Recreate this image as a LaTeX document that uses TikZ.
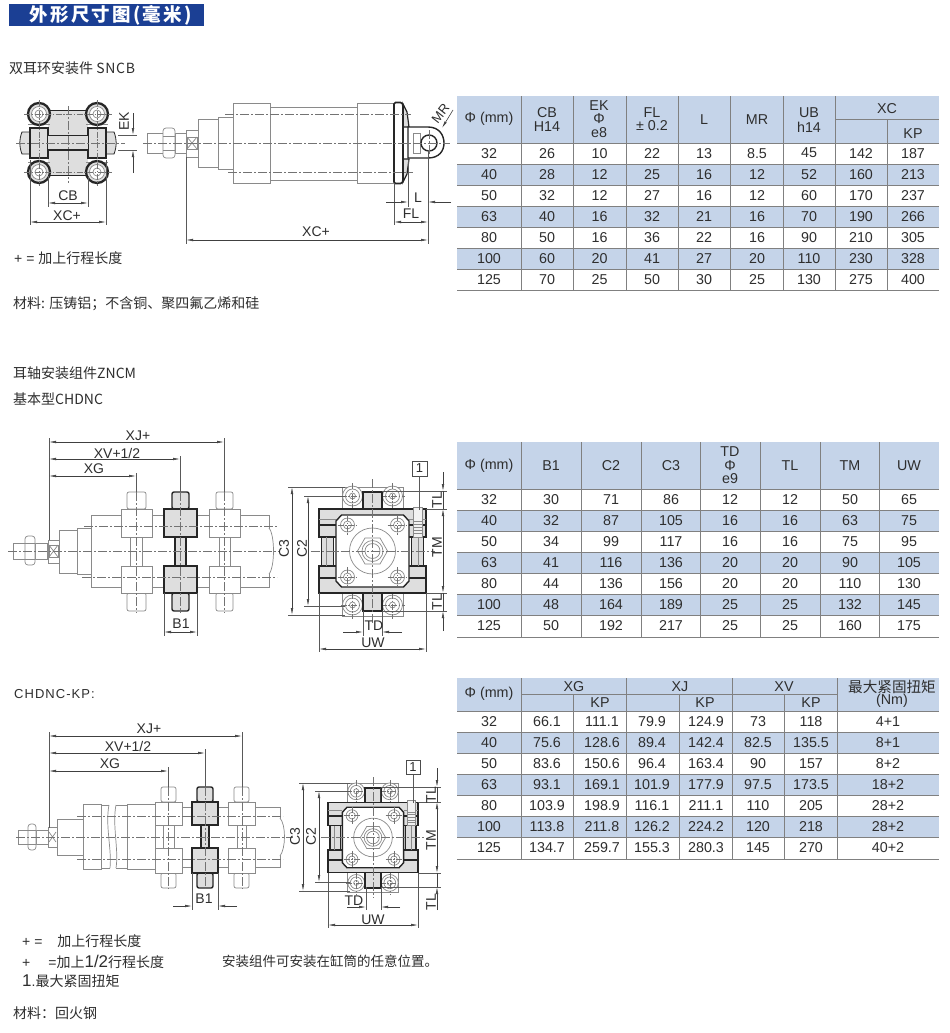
\documentclass[tikz,border=0pt]{standalone}
\usepackage{fontspec}
\setmainfont{Liberation Sans}
\newfontfamily\cjk{Noto Sans CJK SC}
\newfontfamily\latn{Liberation Sans}
\usetikzlibrary{arrows.meta}
\definecolor{ink}{HTML}{2E2E2E}
\definecolor{rowblue}{HTML}{C5D4E9}
\definecolor{banner}{HTML}{1B3F94}
\definecolor{lite}{HTML}{8A8A8A}
\definecolor{grayfill}{HTML}{DEDEDE}
\tikzset{
 >={Latex[length=7pt,width=2.6pt]},
 part/.style={draw=lite,line width=.7pt,fill=white},
 liteline/.style={draw=lite,line width=.7pt},
 dark/.style={draw=black!85,line width=1.4pt,fill=grayfill},
 darkline/.style={draw=black!85,line width=1.4pt},
 cl/.style={draw=black!55,line width=.55pt,dash pattern=on 9pt off 2pt on 2pt off 2pt},
 clshort/.style={draw=black!55,line width=.5pt,dash pattern=on 6pt off 1.5pt on 1.5pt off 1.5pt},
 ext/.style={draw=black!65,line width=.6pt},
 dimn/.style={draw=black!75,line width=.6pt},
 lab/.style={inner sep=0pt,font=\fontsize{14}{14}\selectfont,text=ink},
 note/.style={inner sep=0pt,anchor=west,font=\fontsize{14}{14}\selectfont,text=ink},
 cell/.style={inner sep=0pt,font=\fontsize{14.3}{14}\selectfont,text=ink},
 tline/.style={draw=black!50,line width=.9pt},
 numbox/.style={draw=black!70,line width=.6pt,fill=white,inner sep=0pt,minimum width=15pt,minimum height=15pt,font=\fontsize{13}{13}\selectfont,text=ink},
}
% #1 name #2 top #3 row height #4 centres #5 rows
\newcommand{\tblrows}[5]{%
 \foreach \vals [count=\ri] in {#5}{%
  \foreach \v [count=\ci] in \vals {%
   \pgfmathparse{{#4}[\ci-1]}\let\cx\pgfmathresult
   \pgfmathparse{#2+(\ri-0.52)*#3}\let\cy\pgfmathresult
   \node[cell,name=#1-\ri-\ci] at (\cx,\cy) {\v};
  }%
 }%
}
% #1 header top #2 header bottom #3 row h #4 nrows
\newcommand{\tblback}[4]{%
 \fill[rowblue] (457,#1) rectangle (939,#2);
 \foreach \k in {2,4,6}{\fill[rowblue] (457,{#2+(\k-1)*#3}) rectangle (939,{#2+\k*#3});}
 \foreach \k in {0,...,#4}{\draw[tline] (457,{#2+\k*#3}) -- (939,{#2+\k*#3});}
}
\newcommand{\roundbolt}[2]{%
 \draw[liteline,fill=white] (#1,#2) circle[radius=10];
 \draw[liteline] (#1,#2) circle[radius=7];
 \draw[liteline] (#1,#2) circle[radius=3];
}
\newcommand{\trunnionview}{%
 \draw[part] (-30.5,-64) rectangle (30.5,-42);
 \draw[part] (-30.5,42) rectangle (30.5,65);
 \foreach \a in {-20,20}{\roundbolt{\a}{-55}\roundbolt{\a}{54}
  \draw[clshort] (\a,-68) -- (\a,-42);
  \draw[clshort] (\a,42) -- (\a,68);
  \draw[clshort] (\a-12,-55) -- (\a+12,-55);
  \draw[clshort] (\a-12,54) -- (\a+12,54);
 }
 \draw[dark] (-9.5,-59) rectangle (9.5,-42);
 \draw[dark] (-9.5,42) rectangle (9.5,60);
 \draw[dark,line width=.8pt] (-9.5,-59) -- (-9.5,-42) (9.5,-59) -- (9.5,-42);
 \draw[line width=2.4pt,draw=black!85] (-8.5,-59) -- (8.5,-59) (-8.5,60) -- (8.5,60);
 \draw[dark] (-53.5,-42) rectangle (53.5,42);
 \fill[white] (-55,-14) rectangle (55,15);
 \foreach \s in {-1,1}{
  \fill[grayfill] (\s*51,-14) rectangle (\s*39,15);
  \draw[darkline] (\s*53.5,-42) -- (\s*53.5,-14) -- (\s*36.5,-14);
  \draw[darkline] (\s*53.5,42) -- (\s*53.5,15) -- (\s*36.5,15);
  \draw[darkline,line width=2pt] (\s*53.5,-26) -- (\s*36.5,-26);
  \draw[darkline,line width=2pt] (\s*53.5,27) -- (\s*36.5,27);
  \draw[darkline] (\s*51,-14) -- (\s*51,15);
  \draw[darkline] (\s*39,-14) -- (\s*39,15);
  \draw[liteline] (\s*46,-14) -- (\s*46,15);
  \draw[liteline] (\s*53.5,-32) -- (\s*36.5,-32);
 }
 \draw[darkline,fill=white] (-31,-36) -- (31,-36) -- (36.5,-30) -- (36.5,30) -- (31,36) -- (-31,36) -- (-36.5,30) -- (-36.5,-30) -- cycle;
 \foreach \s in {-1,1}{
  \foreach \t in {-1,1}{
   \draw[liteline,fill=white] (\s*25,\t*26) circle[radius=7];
   \draw[liteline] (\s*25,\t*26) circle[radius=4];
   \draw[clshort] (\s*25-10,\t*26) -- (\s*25+10,\t*26);
   \draw[clshort] (\s*25,\t*26-10) -- (\s*25,\t*26+10);
  }
 }
 \draw[liteline,fill=grayfill!40] (41,-44) rectangle (50,-30);
 \draw[liteline,fill=grayfill!40] (41,-30) rectangle (50,-14);
 \foreach \h in {-27,-24,-21,-18}{\draw[liteline] (41,\h) -- (50,\h);}
 \draw[liteline] (0,0) circle[radius=23];
 \draw[liteline,fill=white] (-15,0) -- (-7.5,-13) -- (7.5,-13) -- (15,0) -- (7.5,13) -- (-7.5,13) -- cycle;
 \draw[liteline,fill=white] (0,0) circle[radius=10.5];
 \draw[liteline] (0,0) circle[radius=7.5];
 \draw[cl] (-62,0) -- (62,0);
 \draw[cl] (0,-72) -- (0,72);
}
\begin{document}
\begin{tikzpicture}[x=1pt,y=-1pt]
\fill[white] (0,0) rectangle (950,1033);
\useasboundingbox (0,0) rectangle (950,1033);

% ---------- banner and notes
\fill[banner] (9,4) rectangle (204,26);
\node[name=title,inner sep=0pt,anchor=west,text=white] at (29.5,15.5) {\fontsize{18.5}{18}\selectfont\cjk\bfseries\addfontfeature{LetterSpace=12}外形尺寸图(毫米)};
\node[note,name=n1] at (9,68) {\cjk 双耳环安装件 \addfontfeature{LetterSpace=5}SNCB};
\node[note,name=n2] at (14,258) {+ = \cjk 加上行程长度};
\node[note,name=n3] at (13,304) {\cjk 材料: 压铸铝；不含铜、聚四氟乙烯和硅};
\node[note,name=n4] at (13,373) {\cjk 耳轴安装组件ZNCM};
\node[note,name=n5] at (13,399) {\cjk 基本型CHDNC};
\node[note,name=n6,font=\fontsize{13}{14}\selectfont] at (14,694) {\addfontfeature{LetterSpace=8}CHDNC-KP:};
\node[note,name=n7] at (22,941) {+ =\hspace{15pt}\cjk 加上行程长度};
\node[note,name=n8] at (22,962) {+\hspace{18pt}=\cjk 加上{\fontsize{17}{14}\selectfont\latn 1/2}行程长度};
\node[note,name=n9] at (22,981) {\fontsize{17}{14}\selectfont 1\fontsize{14}{14}\selectfont .\cjk 最大紧固扭矩};
\node[note,name=n10,font=\fontsize{13.5}{14}\selectfont] at (222,961) {\cjk 安装组件可安装在缸筒的任意位置。};
\node[note,name=n11] at (13,1013) {\cjk 材料：回火钢};

% ---------- table 1
\tblback{96}{143}{21}{7}
\foreach \x in {521,573,626,678,730,783,835}{\draw[tline] (\x,96) -- (\x,290);}
\draw[tline] (887,119) -- (887,290);
\draw[tline] (835,119) -- (939,119);
\node[cell,name=a1] at (489,119) {Φ (mm)};
\node[cell,name=a2] at (547,113) {CB};
\node[cell,name=a3] at (547,127) {H14};
\node[cell,name=a4] at (599,106) {EK};
\node[cell,name=a5] at (599,119) {Φ};
\node[cell,name=a6] at (599,133) {e8};
\node[cell,name=a7] at (652,113) {FL};
\node[cell,name=a8] at (652,126) {± 0.2};
\node[cell,name=a9] at (704,120) {L};
\node[cell,name=a10] at (757,120) {MR};
\node[cell,name=a11] at (809,113) {UB};
\node[cell,name=a12] at (809,127) {h14};
\node[cell,name=a13] at (887,109) {XC};
\node[cell,name=a14] at (913,134) {KP};
\tblrows{ta}{143}{21}{489,547,599.5,652,704,757,809,861,913}{
 {32,26,10,22,13,8.5,45,142,187},
 {40,28,12,25,16,12,52,160,213},
 {50,32,12,27,16,12,60,170,237},
 {63,40,16,32,21,16,70,190,266},
 {80,50,16,36,22,16,90,210,305},
 {100,60,20,41,27,20,110,230,328},
 {125,70,25,50,30,25,130,275,400}}

% ---------- table 2
\tblback{442}{489}{21.14}{7}
\foreach \x in {521,581,641,700,760,820,879}{\draw[tline] (\x,442) -- (\x,637);}
\node[cell,name=b1] at (489,466) {Φ (mm)};
\node[cell,name=b2] at (551,466) {B1};
\node[cell,name=b3] at (611,466) {C2};
\node[cell,name=b4] at (671,466) {C3};
\node[cell,name=b5] at (730,452) {TD};
\node[cell,name=b6] at (730,466) {Φ};
\node[cell,name=b7] at (730,479) {e9};
\node[cell,name=b8] at (790,466) {TL};
\node[cell,name=b9] at (850,466) {TM};
\node[cell,name=b10] at (909,466) {UW};
\tblrows{tb}{489}{21.14}{489,551,611,671,730,790,850,909}{
 {32,30,71,86,12,12,50,65},
 {40,32,87,105,16,16,63,75},
 {50,34,99,117,16,16,75,95},
 {63,41,116,136,20,20,90,105},
 {80,44,136,156,20,20,110,130},
 {100,48,164,189,25,25,132,145},
 {125,50,192,217,25,25,160,175}}

% ---------- table 3
\tblback{678}{711}{21.14}{7}
\foreach \x in {521,626,732,837}{\draw[tline] (\x,678) -- (\x,859);}
\foreach \x in {573,679,784}{\draw[tline] (\x,694) -- (\x,859);}
\draw[tline] (521,694) -- (837,694);
\node[cell,name=c1] at (489,694) {Φ (mm)};
\node[cell,name=c2] at (574,687) {XG};
\node[cell,name=c3] at (680,687) {XJ};
\node[cell,name=c4] at (784,687) {XV};
\node[cell,name=c5] at (600,703) {KP};
\node[cell,name=c6] at (705,703) {KP};
\node[cell,name=c7] at (811,703) {KP};
\node[cell,name=c8,font=\fontsize{14.6}{14}\selectfont] at (892,687) {\cjk 最大紧固扭矩};
\node[cell,name=c9] at (892,701) {(Nm)};
\tblrows{tc}{711}{21.14}{489,547,602,652,706,758,811,888}{
 {32,66.1,111.1,79.9,124.9,73,118,4+1},
 {40,75.6,128.6,89.4,142.4,82.5,135.5,8+1},
 {50,83.6,150.6,96.4,163.4,90,157,8+2},
 {63,93.1,169.1,101.9,177.9,97.5,173.5,18+2},
 {80,103.9,198.9,116.1,211.1,110,205,28+2},
 {100,113.8,211.8,126.2,224.2,120,218,28+2},
 {125,134.7,259.7,155.3,280.3,145,270,40+2}}

% ---------- drawing 1: end view
\fill[grayfill] (48,110) rectangle (88,175.5);
\draw[darkline,line width=1pt] (48,110) -- (88,110) (48,175.5) -- (88,175.5);
\draw[dark,line width=.8pt] (22,132) .. controls (19,140) and (19,146) .. (22,154) -- (30,154) -- (30,132) -- cycle;
\draw[dark,line width=.8pt] (114,132) .. controls (117,140) and (117,146) .. (114,154) -- (106,154) -- (106,132) -- cycle;
\draw[dark] (30,128) rectangle (48,158);
\draw[dark] (88,128) rectangle (106,158);
\draw[liteline] (28,124) -- (50,124) (86,124) -- (108,124) (28,162) -- (50,162) (86,162) -- (108,162);
\fill[grayfill] (48,135) rectangle (88,150);
\draw[darkline,line width=1pt] (48,135) -- (88,135);
\draw[darkline,line width=1.6pt] (48,150) -- (88,150);
\foreach \x/\y in {39/114,97/114,39/172,97/172}{
 \draw[draw=black!85,line width=2.3pt,fill=grayfill] (\x,\y) circle[radius=11];
 \draw[liteline,fill=white] (\x,\y) circle[radius=7.5];
 \draw[liteline] (\x,\y) circle[radius=4];
}
\draw[clshort] (24,114) -- (112,114);
\draw[clshort] (24,172) -- (112,172);
\draw[cl] (16,143) -- (125,143);
\draw[clshort] (39,100) -- (39,186);
\draw[clshort] (97,100) -- (97,186);
\draw[cl] (68,106) -- (68,183);
% dims
\draw[ext] (48,176) -- (48,207);
\draw[ext] (88,176) -- (88,207);
\draw[ext] (30,160) -- (30,225);
\draw[ext] (106,160) -- (106,225);
\draw[dimn,<->] (48,203) -- (88,203);
\draw[dimn,<->] (30,222) -- (106,222);
\node[lab,name=d1] at (68,196) {CB};
\node[lab,name=d2] at (67,216) {XC+};
\draw[ext] (118,135) -- (137,135);
\draw[ext] (118,150) -- (137,150);
\draw[dimn,->] (133,113) -- (133,135);
\draw[dimn,->] (133,173) -- (133,150);
\node[lab,name=d3,rotate=90] at (124,121) {EK};

% ---------- drawing 1: side view
\draw[part] (147,133) rectangle (163,153);
\draw[part] (175,133) rectangle (186,153);
\draw[part,rounded corners=3pt] (163,128) rectangle (175,158);
\draw[liteline] (163,136) -- (175,136) (163,150) -- (175,150);
\draw[part] (186,130) rectangle (198,157);
\draw[liteline] (187,137) rectangle (197,149);
\draw[liteline] (187,137) -- (197,149) (187,149) -- (197,137);
\draw[part] (198,119) rectangle (218,167);
\draw[part] (218,117) rectangle (233,169);
\draw[part] (270,107) rectangle (357,180);
\draw[part] (233,103) rectangle (270,183);
\draw[part] (357,103) rectangle (394,183);
\draw[draw=black!85,line width=1.2pt,fill=grayfill] (403,104) -- (407,112) -- (409,127) -- (403,127) -- cycle;
\draw[draw=black!85,line width=1.2pt,fill=grayfill] (403,182) -- (407,174) -- (409,159) -- (403,159) -- cycle;
\draw[darkline,fill=white] (408,127) -- (428,127) .. controls (439,127) and (444,135) .. (444,143) .. controls (444,151) and (439,158) .. (428,158) -- (408,158) -- cycle;
\draw[liteline] (413,133) -- (420,133) -- (420,153) -- (413,153) -- cycle;
\draw[draw=black!85,line width=1.6pt,fill=white,rounded corners=1.5pt] (394,102.5) -- (402,102.5) -- (403,105) -- (403,181) -- (402,183.5) -- (394,183.5) -- cycle;
\draw[darkline,fill=white] (429,143) circle[radius=8];
\draw[cl] (143,143) -- (450,143);
\draw[cl] (225,114) -- (411,114);
\draw[cl] (228,172) -- (413,172);
\draw[cl] (429,130) -- (429,156);
% dims
\draw[ext] (186,157) -- (186,244);
\draw[ext] (394,183) -- (394,225);
\draw[ext] (408,160) -- (408,207);
\draw[ext] (428,150) -- (428,244);
\draw[dimn,<->] (186,240) -- (428,240);
\node[lab,name=d4] at (316,232) {XC+};
\draw[dimn,<->] (394,222) -- (428,222);
\node[lab,name=d5] at (411,214) {FL};
\draw[dimn,->] (386,202) -- (408,202);
\draw[dimn,->] (451,202) -- (428,202);
\node[lab,name=d6] at (418,198) {L};
\draw[dimn,->] (453,110) -- (442,128);
\node[lab,name=d7,rotate=52,font=\fontsize{13}{13}\selectfont] at (440.5,113.5) {MR};

% ---------- drawing 2: side view
\draw[part] (13,543) rectangle (25,559);
\draw[part] (35,543) rectangle (47,559);
\draw[part,rounded corners=3pt] (25,536) rectangle (35,565);
\draw[liteline] (25,543) -- (35,543) (25,559) -- (35,559);
\draw[part] (48,540) rectangle (59,563);
\draw[liteline] (49,545) rectangle (58,557);
\draw[liteline] (49,545) -- (58,557) (49,557) -- (58,545);
\draw[part] (59,530) rectangle (77,573);
\draw[part] (77,528) rectangle (91,574);
\draw[part] (91,515) rectangle (269,587);
\draw[part] (269,528) .. controls (275,535) and (275,567) .. (269,574);
\def\ytp{492}\def\ybt{509}\def\ybm{537}\def\ycm{566}\def\ycb{593}\def\ypb{611}
\foreach \xl/\xr/\pl/\pr/\st/\rl/\rr in {121/152/127/146/part/130/142,164/197/172/189/dark/175/186,209/240/216/233/part/219/230}{
 \draw[\st,rounded corners=2pt] (\pl,\ytp) rectangle (\pr,\ybt);
 \draw[\st,rounded corners=2pt] (\pl,\ycb) rectangle (\pr,\ypb);
 \draw[\st] (\rl,\ybm) rectangle (\rr,\ycm);
 \draw[\st] (\xl,\ybt) rectangle (\xr,\ybm);
 \draw[\st] (\xl,\ycm) rectangle (\xr,\ycb);
}
\draw[cl] (8,551) -- (280,551);
\draw[cl] (84,526) -- (277,526);
\draw[cl] (82,577) -- (277,577);
\foreach \x in {136,180,224}{\draw[cl] (\x,492) -- (\x,613);}
% dims
\draw[ext] (49,438) -- (49,540);
\draw[ext] (224,438) -- (224,492);
\draw[ext] (180,456) -- (180,492);
\draw[ext] (136,473) -- (136,492);
\draw[dimn,<->] (49,442) -- (224,442);
\draw[dimn,<->] (49,459) -- (180,459);
\draw[dimn,<->] (49,476) -- (136,476);
\node[lab,name=e1] at (138,436) {XJ+};
\node[lab,name=e2] at (117,453) {XV+1/2};
\node[lab,name=e3] at (94,469) {XG};
\draw[ext] (164,593) -- (164,636);
\draw[ext] (197,593) -- (197,636);
\draw[dimn,<->] (164,632) -- (197,632);
\node[lab,name=e4] at (181,624) {B1};

% ---------- drawing 2: end view
\begin{scope}[shift={(372.5,551)}]\trunnionview\end{scope}
\node[numbox,name=e5] at (419.5,468.5) {1};
\draw[ext] (e5.south) -- (419.5,510);
\foreach \y in {487,615}{\draw[ext] (288,\y) -- (345,\y);}
\foreach \y in {496,606}{\draw[ext] (304,\y) -- (345,\y);}
\draw[ext] (382,491) -- (447,491);
\draw[ext] (426,509) -- (447,509);
\draw[ext] (426,593) -- (447,593);
\draw[ext] (382,611) -- (447,611);
\draw[dimn,<->] (292,487) -- (292,615);
\draw[dimn,<->] (308,496) -- (308,606);
\node[lab,name=e6,rotate=90] at (284,549) {C3};
\node[lab,name=e7,rotate=90] at (302,549) {C2};
\draw[dimn,<->] (443,509) -- (443,593);
\draw[dimn,->] (443,472) -- (443,491);
\draw[dimn,->] (443,631) -- (443,611);
\draw[dimn] (443,491) -- (443,509) (443,593) -- (443,611);
\node[lab,name=e8,rotate=90] at (437,547) {TM};
\node[lab,name=e9,rotate=90] at (437,500) {TL};
\node[lab,name=e10,rotate=90] at (437,602) {TL};
\draw[ext] (363,611) -- (363,636);
\draw[ext] (382,611) -- (382,636);
\draw[ext] (319,593) -- (319,652);
\draw[ext] (426,593) -- (426,652);
\draw[dimn,->] (343,632) -- (363,632);
\draw[dimn,->] (402,632) -- (382,632);
\node[lab,name=e11] at (374,626) {TD};
\draw[dimn,<->] (319,649) -- (426,649);
\node[lab,name=e12] at (373,643) {UW};

% ---------- drawing 3: side view
\draw[part] (18,830) rectangle (28,844);
\draw[part] (36,830) rectangle (48,844);
\draw[part,rounded corners=3pt] (28,824) rectangle (36,850);
\draw[liteline] (28,830) -- (36,830) (28,844) -- (36,844);
\draw[part] (48,827) rectangle (57,847);
\draw[liteline] (49,832) -- (56,842) (49,842) -- (56,832);
\draw[part] (57,819) rectangle (83,855);
\draw[part] (155,807) rectangle (280,867);
\draw[part] (83,804) rectangle (101,869);
\draw[part] (127,804) rectangle (155,869);
\draw[liteline] (101,805) -- (109,805) (116,805) -- (127,805) (101,868) -- (110,868) (116,868) -- (127,868);
\draw[liteline] (109,805) .. controls (105,825) and (112,850) .. (110,868);
\draw[liteline] (116,805) .. controls (112,825) and (119,850) .. (116,868);
\draw[part] (280,818) .. controls (286,825) and (286,848) .. (280,856);
\def\ytp{787}\def\ybt{802}\def\ybm{825}\def\ycm{848}\def\ycb{873}\def\ypb{888}
\foreach \xl/\xr/\pl/\pr/\st/\rl/\rr in {155/182/161/176/part/163/174,192/218/197/213/dark/201/209,228/255/234/249/part/237/246}{
 \draw[\st,rounded corners=2pt] (\pl,\ytp) rectangle (\pr,\ybt);
 \draw[\st,rounded corners=2pt] (\pl,\ycb) rectangle (\pr,\ypb);
 \draw[\st] (\rl,\ybm) rectangle (\rr,\ycm);
 \draw[\st] (\xl,\ybt) rectangle (\xr,\ybm);
 \draw[\st] (\xl,\ycm) rectangle (\xr,\ycb);
}
\draw[cl] (16,837) -- (293,837);
\draw[cl] (77,816) -- (283,816);
\draw[cl] (77,859) -- (283,859);
\foreach \x in {168,205,242}{\draw[cl] (\x,787) -- (\x,889);}
% dims
\draw[ext] (49,732) -- (49,828);
\draw[ext] (242,732) -- (242,787);
\draw[ext] (205,749) -- (205,787);
\draw[ext] (168,767) -- (168,787);
\draw[dimn,<->] (49,736) -- (242,736);
\draw[dimn,<->] (49,753) -- (205,753);
\draw[dimn,<->] (49,771) -- (168,771);
\node[lab,name=f1] at (149,729) {XJ+};
\node[lab,name=f2] at (128,746) {XV+1/2};
\node[lab,name=f3] at (110,764) {XG};
\draw[ext] (192,873) -- (192,910);
\draw[ext] (218,873) -- (218,910);
\draw[dimn,->] (173,906) -- (192,906);
\draw[dimn,->] (237,906) -- (218,906);
\node[lab,name=f4] at (204,899) {B1};

% ---------- drawing 3: end view
\begin{scope}[shift={(373,837.5)},scale=.84]\trunnionview\end{scope}
\node[numbox,name=f5,minimum width=14pt,minimum height=14pt] at (413,767.5) {1};
\draw[ext] (f5.south) -- (413,803);
\draw[ext] (299,783) -- (350,783);
\draw[ext] (299,891) -- (350,891);
\draw[ext] (315,791) -- (350,791);
\draw[ext] (315,882) -- (350,882);
\draw[ext] (381,787) -- (441,787);
\draw[ext] (418,802) -- (441,802);
\draw[ext] (418,873) -- (441,873);
\draw[ext] (381,887) -- (441,887);
\draw[dimn,<->] (303,783) -- (303,891);
\draw[dimn,<->] (319,791) -- (319,882);
\node[lab,name=f6,rotate=90] at (295,837) {C3};
\node[lab,name=f7,rotate=90] at (311,837) {C2};
\draw[dimn,<->] (437,802) -- (437,873);
\draw[dimn,->] (437,768) -- (437,787);
\draw[dimn,->] (437,910) -- (437,887);
\draw[dimn] (437,787) -- (437,802) (437,873) -- (437,887);
\node[lab,name=f8,rotate=90] at (431,840) {TM};
\node[lab,name=f9,rotate=90] at (431,795) {TL};
\node[lab,name=f10,rotate=90] at (431,902) {TL};
\draw[ext] (366,887) -- (366,910);
\draw[ext] (381,887) -- (381,910);
\draw[ext] (328,873) -- (328,928);
\draw[ext] (418,873) -- (418,928);
\draw[dimn,->] (347,907) -- (366,907);
\draw[dimn,->] (400,907) -- (381,907);
\node[lab,name=f11] at (354,901) {TD};
\draw[dimn,<->] (328,925) -- (418,925);
\node[lab,name=f12] at (373,920) {UW};
\end{tikzpicture}
\end{document}
